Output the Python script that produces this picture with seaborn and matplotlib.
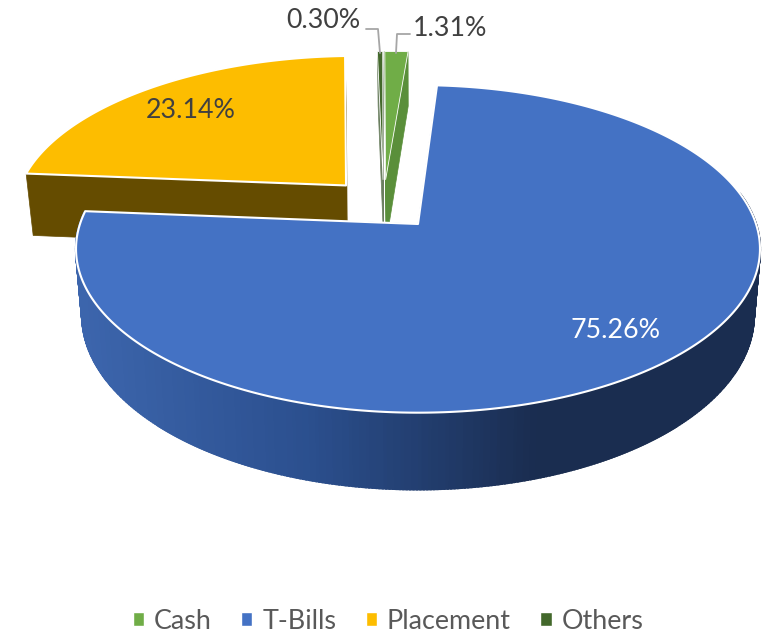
import numpy as np
import matplotlib
matplotlib.use('Agg')
import matplotlib.pyplot as plt
from matplotlib.patches import Patch
import seaborn as sns

categories = ['Cash', 'T-Bills', 'Placement', 'Others']
shares = [1.31, 75.26, 23.14, 0.30]
top_colors = ['#70AD47', '#4472C4', '#FDBD00', '#43682B']
cut_colors = ['#5A8F3A', '#2F5597', '#654C00', '#6B7F60']

# slice offsets on the unit disc (exploded slices)
offsets = [(-0.10, 0.29), (0.0, 0.0), (-0.221, 0.25), (-0.108, 0.29)]
# where the labels sit, pixels
label_pos = [(450, 28), (615, 331), (191, 111), (323, 21)]
label_colors = ['#404040', 'white', '#404040', '#404040']

CX, CY = 418, 224
RX, RY = 338, 160
K = 0.152
DEPTH = 65
START = -1.0

sns.set_theme(style='white')
plt.rcParams['font.family'] = ['Lato', 'DejaVu Sans']


def project(x, y, drop=False):
    # perspective mapping of the disc, far side shrinks
    s = 1 / (1 + K * y)
    sx = CX + RX * x * s
    sy = CY - RY * y * s
    if drop:
        sx = CX + (sx - CX) * 0.982
        sy = sy + DEPTH * s
    return sx, sy


def wedge(a0, a1, off):
    ang = np.radians(np.linspace(a0, a1, max(int(a1 - a0) * 2, 8)))
    x = np.sin(ang) + off[0]
    y = np.cos(ang) + off[1]
    return x, y


fig, ax = plt.subplots(figsize=(7.67, 6.33), dpi=100)
fig.subplots_adjust(0, 0, 1, 1)
ax.set_xlim(0, 767)
ax.set_ylim(633, 0)
ax.axis('off')

angles = np.cumsum([0] + [s * 3.6 for s in shares]) + START
side_pal = sns.blend_palette(['#3C65AC', '#2B4F8E', '#1A2D50', '#1A2D50'], 120)

# back slices first, T-Bills goes on top of everything
for i in [2, 3, 0, 1]:
    a0, a1 = angles[i], angles[i + 1]
    off = offsets[i]
    x, y = wedge(a0, a1, off)
    tx, ty = project(x, y)
    bx, by = project(x, y, drop=True)
    ax0, ay0 = project(off[0], off[1])
    bx0, by0 = project(off[0], off[1], drop=True)

    # the two cut faces
    for ex, ey, dx, dy in [(tx[0], ty[0], bx[0], by[0]), (tx[-1], ty[-1], bx[-1], by[-1])]:
        ax.fill([ax0, ex, dx, bx0], [ay0, ey, dy, by0], color=cut_colors[i], lw=0.5, zorder=i + 2 if i != 1 else 6)

    # outer wall, only the T-Bills one shows and it has the shading
    if i == 1:
        for j in range(len(x) - 1):
            if y[j] > 0.2:
                continue
            pos = (tx[j] - 80) / (680)
            col = side_pal[int(np.clip(pos, 0, 1) * 119)]
            ax.fill([tx[j], tx[j + 1], bx[j + 1], bx[j]], [ty[j], ty[j + 1], by[j + 1], by[j]],
                    color=col, lw=1.6, zorder=7)
        z_top = 8
    else:
        z_top = i + 3

    ax.fill(np.r_[ax0, tx], np.r_[ay0, ty], facecolor=top_colors[i], edgecolor='white',
            lw=1.5 if i in (1, 2) else 0.6, joinstyle='round', zorder=z_top)

for i, val in enumerate(shares):
    ax.text(label_pos[i][0], label_pos[i][1], f'{val:.2f}%', color=label_colors[i], fontsize=19.3,
            ha='center', va='center', zorder=10)

# leader lines for the two small slices
ax.plot([366, 378, 380], [29, 29, 53], color='#A6A6A6', lw=1.3, zorder=9)
ax.plot([410, 397, 396], [34, 34, 53], color='#A6A6A6', lw=1.3, zorder=9)

handles = [Patch(facecolor=c, label=n) for c, n in zip(top_colors, categories)]
ax.legend(handles=handles, ncol=4, loc='center', bbox_to_anchor=(388 / 767, 1 - 621.5 / 633), frameon=False,
          fontsize=19.4, labelcolor='#595959', handlelength=0.41, handleheight=0.41, handletextpad=0.37,
          columnspacing=1.1, borderpad=0, borderaxespad=0)

fig.savefig('out.png', dpi=100)
